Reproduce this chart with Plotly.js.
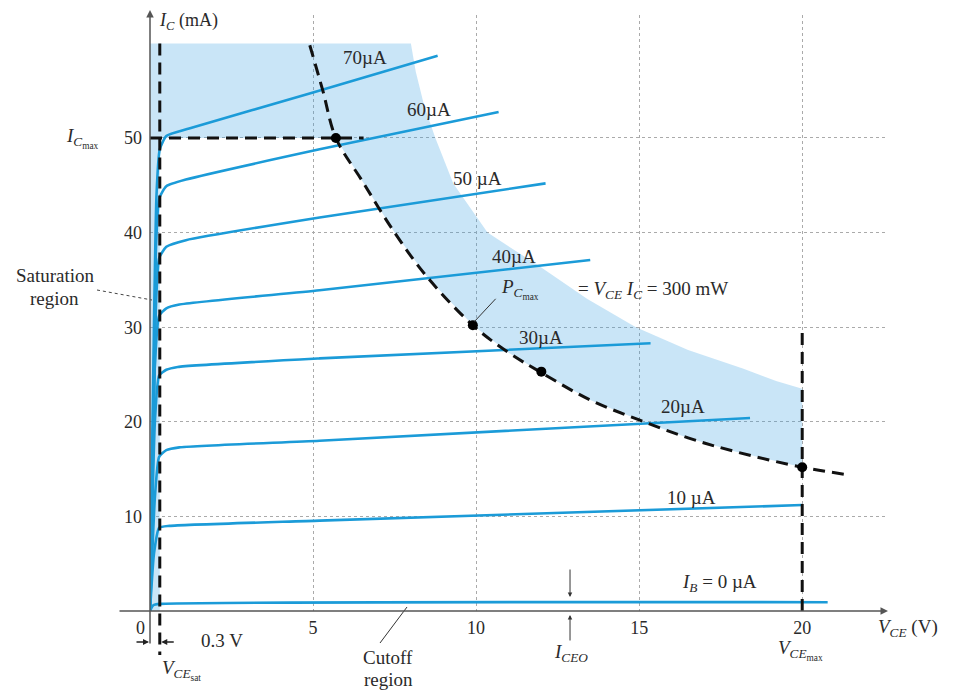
<!DOCTYPE html>
<html>
<head>
<meta charset="utf-8">
<script src="https://cdn.plot.ly/plotly-3.0.1.min.js"></script>
<style>html,body{margin:0;padding:0;background:#fff;}#chart{width:956px;height:691px;}</style>
</head>
<body>
<div id="chart"></div>
<script>
// ---------- data (V_CE in volts, I_C in mA) ----------
const curveLabels = ['70µA', '60µA', '50 µA', '40µA', '30µA', '20µA', '10 µA', '<i>I<sub>B</sub></i> = 0 µA'];
const curve70V = [0, 0.2, 0.3, 0.5, 1.2, 5.0, 8.82];
const curve70I = [0, 44, 48.8, 50.2, 51.0, 54.8, 58.7];
const curve60V = [0, 0.18, 0.28, 0.5, 1.1, 5.2, 10.69];
const curve60I = [0, 38, 43.6, 44.9, 45.6, 48.8, 52.75];
const curve50V = [0, 0.18, 0.28, 0.5, 1.1, 5.2, 12.13];
const curve50I = [0, 32, 37.3, 38.5, 39.2, 41.6, 45.2];
const curve40V = [0, 0.15, 0.28, 0.5, 0.9, 5.2, 13.5];
const curve40I = [0, 26, 31.2, 32.0, 32.4, 33.9, 37.1];
const curve30V = [0, 0.15, 0.28, 0.5, 0.85, 5.2, 15.35];
const curve30I = [0, 20, 24.9, 25.5, 25.8, 26.7, 28.3];
const curve20V = [0, 0.15, 0.28, 0.5, 0.9, 5.2, 18.4];
const curve20I = [0, 12, 16.3, 17.0, 17.3, 18.0, 20.4];
const curve10V = [0, 0.12, 0.28, 0.6, 5.2, 20.0];
const curve10I = [0, 6, 8.8, 9.0, 9.55, 11.2];
const curve0V = [0, 0.1, 0.3, 20.78];
const curve0I = [0, 0.6, 0.75, 0.93];

// label anchor positions for the base-current curves
const labelV = [6.6, 8.55, 10.05, 11.15, 12.0, 16.35, 16.6, 17.45];
const labelI = [58.5, 53.0, 45.7, 37.5, 28.9, 21.6, 12.0, 3.0];

// maximum power hyperbola P = V_CE * I_C = 300 mW
const pmaxV = [4.9, 5.3, 5.7, 6.5, 7.5, 8.5, 9.9, 11, 12, 13.5, 15, 16.5, 18, 20, 21.4];
const pmaxI = [59.8, 55, 50, 45.5, 40, 35.3, 30.2, 27.3, 25.2, 22.3, 20.2, 18.3, 16.8, 15.2, 14.4];

// shaded (limit) region outer boundary
const outerV = [8.0, 8.15, 8.4, 8.75, 9.3, 10.35, 12.0, 13.4, 14.9, 16.5, 18.2, 19.2, 20];
const outerI = [60, 57, 53.5, 50, 45.2, 40, 36.3, 33, 30, 27.6, 25.6, 24.3, 23.5];

// marked points
const dotV = [5.7, 9.9, 12.0, 20.0];
const dotI = [50, 30.2, 25.3, 15.2];

// limits
const icMax = 50, icMaxEndV = 6.55;
const vceSat = 0.3, vceMax = 20, vceMaxTopI = 30, topI = 60;
const iceoV = 12.88;

// axes ticks
const xTicks = [5, 10, 15, 20];
const yTicks = [10, 20, 30, 40, 50];
const xRange = [0, 22.6], yRange = [0, 63];

// ---------- layout helpers ----------
const W = 956, H = 691, ML = 150, MR = 69, MT = 15, MB = 80;
const PW = W - ML - MR, PH = H - MT - MB;
const xp = v => (v - xRange[0]) / (xRange[1] - xRange[0]);
const yp = i => (i - yRange[0]) / (yRange[1] - yRange[0]);
const fx = px => (px - ML) / PW;          // pixel -> paper
const fy = py => (H - MB - py) / PH;

const BLUE = '#1b9bd8';
const SERIF = 'Liberation Serif, Times New Roman, serif';
const TXT = '#2a2a2a';

// shading polygon
const hypRevV = pmaxV.filter(v => v >= 5.7 && v <= 20).slice().reverse();
const hypRevI = pmaxI.filter((_, k) => pmaxV[k] >= 5.7 && pmaxV[k] <= 20).slice().reverse();
const shadeV = [0].concat(outerV, [vceMax], hypRevV, [vceSat, vceSat, 0, 0]);
const shadeI = [topI].concat(outerI, [15.2], hypRevI, [icMax, 0, 0, topI]);

const traces = [];
traces.push({x: shadeV, y: shadeI, mode: 'lines', fill: 'toself',
  fillcolor: 'rgba(60,160,225,0.28)', line: {width: 0}, hoverinfo: 'skip', showlegend: false});

const curves = [[curve70V, curve70I], [curve60V, curve60I], [curve50V, curve50I], [curve40V, curve40I],
  [curve30V, curve30I], [curve20V, curve20I], [curve10V, curve10I], [curve0V, curve0I]];
curves.forEach(c => traces.push({x: c[0], y: c[1], mode: 'lines',
  line: {color: BLUE, width: 2.6, shape: 'spline', smoothing: 0.5}, showlegend: false}));

const DASH = '12px,7px';
traces.push({x: [0, icMaxEndV], y: [icMax, icMax], mode: 'lines', line: {color: '#111', width: 3, dash: DASH}, showlegend: false});
traces.push({x: [vceMax, vceMax], y: [0, vceMaxTopI], mode: 'lines', line: {color: '#111', width: 3, dash: DASH}, showlegend: false});
traces.push({x: pmaxV, y: pmaxI, mode: 'lines', line: {color: '#111', width: 3, dash: DASH, shape: 'spline'}, showlegend: false});
traces.push({x: dotV, y: dotI, mode: 'markers', marker: {color: '#000', size: 10}, showlegend: false});

const ann = [];
const F = (s) => ({family: SERIF, size: s, color: TXT});
const txt = (o) => Object.assign({showarrow: false, xanchor: 'center', yanchor: 'middle', font: F(19)}, o);
curveLabels.forEach((t, k) => ann.push(txt({x: labelV[k], y: labelI[k], xref: 'x', yref: 'y', text: t})));
ann.push(txt({x: 10.7, y: 34.0, xref: 'x', yref: 'y', xanchor: 'left', text: '<i>P</i><sub><i>C</i><sub>max</sub></sub>'}));
ann.push(txt({x: 13.05, y: 33.9, xref: 'x', yref: 'y', xanchor: 'left', text: '= <i>V</i><sub><i>CE</i></sub> <i>I</i><sub><i>C</i></sub> = 300 mW'}));
ann.push(txt({x: fx(157), y: fy(22), xref: 'paper', yref: 'paper', xanchor: 'left', font: F(18), text: '<i>I</i><sub><i>C</i></sub> (mA)'}));
ann.push(txt({x: fx(876), y: fy(628), xref: 'paper', yref: 'paper', xanchor: 'left', text: '<i>V</i><sub><i>CE</i></sub> (V)'}));
ann.push(txt({x: fx(101), y: icMax, xref: 'paper', yref: 'y', xanchor: 'right', text: '<i>I</i><sub><i>C</i><sub>max</sub></sub>'}));
ann.push(txt({x: fx(140), y: fy(628), xref: 'paper', yref: 'paper', font: F(18), text: '0'}));
ann.push(txt({x: fx(222), y: fy(640), xref: 'paper', yref: 'paper', text: '0.3 V'}));
ann.push(txt({x: fx(181), y: fy(670), xref: 'paper', yref: 'paper', text: '<i>V</i><sub><i>CE</i><sub>sat</sub></sub>'}));
ann.push(txt({x: fx(388), y: fy(657), xref: 'paper', yref: 'paper', text: 'Cutoff'}));
ann.push(txt({x: fx(388), y: fy(679), xref: 'paper', yref: 'paper', text: 'region'}));
ann.push(txt({x: fx(571), y: fy(653), xref: 'paper', yref: 'paper', text: '<i>I</i><sub><i>CEO</i></sub>'}));
ann.push(txt({x: fx(800), y: fy(650), xref: 'paper', yref: 'paper', text: '<i>V</i><sub><i>CE</i><sub>max</sub></sub>'}));
ann.push(txt({x: fx(55), y: fy(275), xref: 'paper', yref: 'paper', text: 'Saturation'}));
ann.push(txt({x: fx(54), y: fy(298), xref: 'paper', yref: 'paper', text: 'region'}));

// axis arrows and marker arrows
const arrow = (o) => Object.assign({text: '', showarrow: true, arrowhead: 2, arrowsize: 1, arrowwidth: 1.5, arrowcolor: '#555'}, o);
ann.push(arrow({x: fx(888), y: 0, xref: 'paper', yref: 'paper', ax: -770, ay: 0}));
ann.push(arrow({x: 0, y: fy(10), xref: 'paper', yref: 'paper', ax: 0, ay: 635}));
ann.push(arrow({x: xp(iceoV), y: fy(597), xref: 'paper', yref: 'paper', ax: 0, ay: -29, arrowwidth: 1, arrowsize: 0.9, arrowcolor: '#333'}));
ann.push(arrow({x: xp(iceoV), y: fy(615), xref: 'paper', yref: 'paper', ax: 0, ay: 27, arrowwidth: 1, arrowsize: 0.9, arrowcolor: '#333'}));
ann.push(arrow({x: fx(149), y: fy(642), xref: 'paper', yref: 'paper', ax: -14, ay: 0, arrowwidth: 1.5, arrowsize: 0.8, arrowcolor: '#222'}));
ann.push(arrow({x: xp(vceSat) + 0.002, y: fy(642), xref: 'paper', yref: 'paper', ax: 14, ay: 0, arrowwidth: 1.5, arrowsize: 0.8, arrowcolor: '#222'}));

const shapes = [
  {type: 'line', xref: 'paper', yref: 'paper', x0: xp(vceSat), x1: xp(vceSat), y0: yp(topI), y1: fy(655),
   line: {color: '#111', width: 3, dash: DASH}},
  {type: 'line', xref: 'paper', yref: 'paper', x0: fx(97), y0: fy(290), x1: fx(152), y1: fy(300),
   line: {color: '#444', width: 1, dash: 'dot'}},
  {type: 'line', xref: 'paper', yref: 'paper', x0: fx(380), y0: fy(643), x1: fx(407), y1: fy(607),
   line: {color: '#333', width: 1}},
  {type: 'line', xref: 'x', yref: 'y', x0: 9.95, y0: 30.6, x1: 10.6, y1: 33.0,
   line: {color: '#333', width: 1}}
];

const axisCommon = {showline: false, zeroline: false, ticks: '', showgrid: true,
  gridcolor: '#aaaaaa', griddash: 'dot', gridwidth: 1, fixedrange: true,
  tickfont: F(18)};

const layout = {
  width: W, height: H,
  margin: {l: ML, r: MR, t: MT, b: MB, pad: 0},
  paper_bgcolor: '#fff', plot_bgcolor: '#fff',
  showlegend: false,
  xaxis: Object.assign({}, axisCommon, {range: xRange, tickmode: 'array', tickvals: xTicks, ticktext: xTicks.map(String), ticklabelstandoff: 4}),
  yaxis: Object.assign({}, axisCommon, {range: yRange, tickmode: 'array', tickvals: yTicks, ticktext: yTicks.map(String), ticklabelstandoff: 7}),
  annotations: ann,
  shapes: shapes
};

Plotly.newPlot('chart', traces, layout, {staticPlot: true, displayModeBar: false});
</script>
</body>
</html>
